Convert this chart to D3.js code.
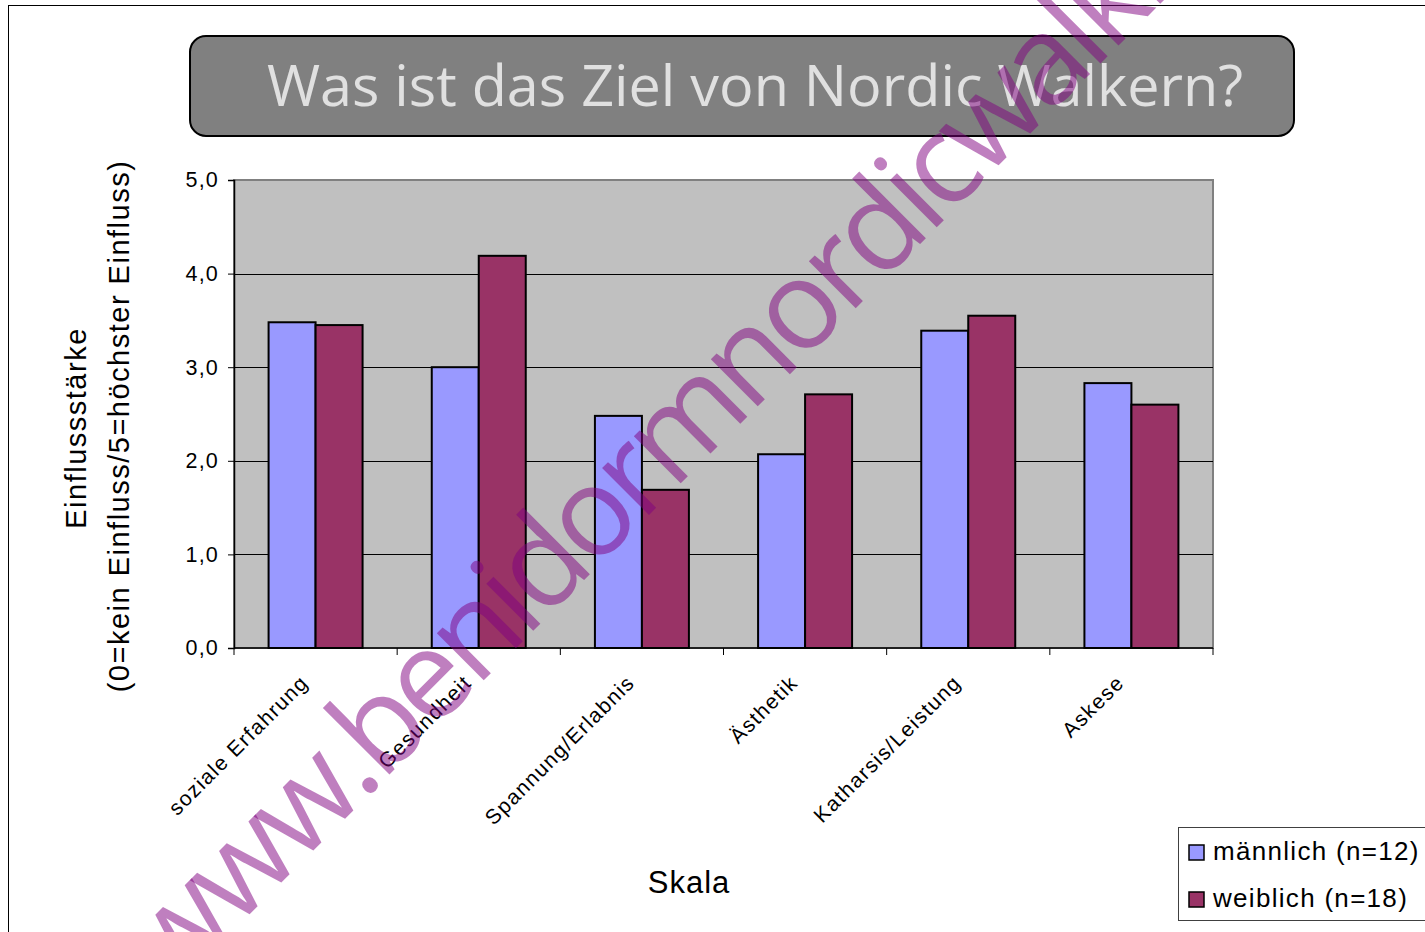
<!DOCTYPE html>
<html>
<head>
<meta charset="utf-8">
<script src="https://cdn.jsdelivr.net/npm/d3@7"></script>
<style>
  html, body { margin: 0; padding: 0; background: #fff; overflow: hidden; }
  svg { display: block; }
  text { font-family: "Liberation Sans", Arial, sans-serif; }
</style>
</head>
<body>
<div id="container"></div>
<script>
const width = 1425;
const height = 932;

const categories = ["soziale Erfahrung", "Gesundheit", "Spannung/Erlabnis", "Ästhetik", "Katharsis/Leistung", "Askese"];
const seriesNames = ["männlich (n=12)", "weiblich (n=18)"];
const maennlich = [3.48, 3.00, 2.48, 2.07, 3.39, 2.83];
const weiblich = [3.45, 4.19, 1.69, 2.71, 3.55, 2.60];
const yTicks = [0, 1, 2, 3, 4, 5];
const colors = ["#9999ff", "#993366"];

const title = "Was ist das Ziel von Nordic Walkern?";
const watermark = "www.benidormnordicwalking.com";

const plot = { left: 234, right: 1213, top: 180, bottom: 648 };

const svg = d3.select("#container").append("svg")
  .attr("width", width)
  .attr("height", height);

// outer frame
svg.append("rect")
  .attr("x", 8.5).attr("y", 5.5)
  .attr("width", width + 20).attr("height", height + 20)
  .attr("fill", "#fff").attr("stroke", "#000").attr("stroke-width", 1);

// title box
svg.append("rect")
  .attr("x", 190).attr("y", 36)
  .attr("width", 1104).attr("height", 100)
  .attr("rx", 16).attr("ry", 16)
  .attr("fill", "#808080").attr("stroke", "#000").attr("stroke-width", 2);

svg.append("text")
  .attr("x", 755).attr("y", 106)
  .attr("text-anchor", "middle")
  .style("font-family", "'Open Sans', sans-serif")
  .style("font-size", "57.5px")
  .attr("fill", "#e0e0e0")
  .text(title);

const x0 = d3.scaleBand()
  .domain(categories)
  .range([plot.left, plot.right])
  .padding(0);

const x1 = d3.scaleBand()
  .domain([0, 1])
  .range([0, x0.bandwidth()])
  .paddingInner(0)
  .paddingOuter(0.736);

const y = d3.scaleLinear()
  .domain([0, 5])
  .range([plot.bottom, plot.top]);

// plot background
svg.append("rect")
  .attr("x", plot.left).attr("y", plot.top)
  .attr("width", plot.right - plot.left).attr("height", plot.bottom - plot.top)
  .attr("fill", "#c0c0c0").attr("stroke", "#808080").attr("stroke-width", 2);

// gridlines
svg.append("g")
  .selectAll("line")
  .data(yTicks.filter(d => d > 0 && d < 5))
  .join("line")
  .attr("x1", plot.left).attr("x2", plot.right)
  .attr("y1", d => Math.round(y(d)) + 0.5).attr("y2", d => Math.round(y(d)) + 0.5)
  .attr("stroke", "#000").attr("stroke-width", 1);

// bars
const groups = svg.append("g")
  .selectAll("g")
  .data(categories.map((c, i) => ({ c, vals: [maennlich[i], weiblich[i]] })))
  .join("g")
  .attr("transform", d => `translate(${x0(d.c)},0)`);

groups.selectAll("rect")
  .data(d => d.vals.map((v, k) => ({ v, k })))
  .join("rect")
  .attr("x", d => x1(d.k))
  .attr("y", d => y(d.v))
  .attr("width", x1.bandwidth())
  .attr("height", d => y(0) - y(d.v))
  .attr("fill", d => colors[d.k])
  .attr("stroke", "#000").attr("stroke-width", 2);

// y axis
const yAxis = svg.append("g")
  .attr("transform", `translate(${plot.left},0)`)
  .call(d3.axisLeft(y).tickValues(yTicks).tickSize(6).tickPadding(9)
    .tickFormat(d => d3.format(".1f")(d).replace(".", ",")));
yAxis.select(".domain").attr("stroke", "#000").attr("stroke-width", 1.5);
yAxis.selectAll(".tick text")
  .style("font-family", "'Liberation Sans', Arial, sans-serif")
  .style("font-size", "21.5px")
  .style("letter-spacing", "1.2px")
  .attr("fill", "#000");

// x axis with ticks at category boundaries
const xAxis = svg.append("g")
  .attr("transform", `translate(0,${plot.bottom})`);
xAxis.append("line")
  .attr("x1", plot.left).attr("x2", plot.right)
  .attr("stroke", "#000").attr("stroke-width", 1.5);
xAxis.selectAll(".bt")
  .data(categories.map(c => x0(c)).concat([x0.range()[1]]))
  .join("line")
  .attr("class", "bt")
  .attr("x1", d => d).attr("x2", d => d)
  .attr("y1", 0).attr("y2", 7)
  .attr("stroke", "#000").attr("stroke-width", 1);

xAxis.selectAll(".lbl")
  .data(categories)
  .join("text")
  .attr("class", "lbl")
  .attr("text-anchor", "end")
  .attr("transform", d => `translate(${x0(d) + x0.bandwidth() / 2 - 6},${36}) rotate(-45)`)
  .style("font-size", "21px")
  .style("letter-spacing", "1.4px")
  .attr("fill", "#000")
  .text(d => d);

// axis titles
svg.append("text")
  .attr("transform", `translate(86,428) rotate(-90)`)
  .attr("text-anchor", "middle")
  .style("font-size", "29px")
  .style("letter-spacing", "1.5px")
  .text("Einflussstärke");
svg.append("text")
  .attr("transform", `translate(129,426) rotate(-90)`)
  .attr("text-anchor", "middle")
  .style("font-size", "29px")
  .style("letter-spacing", "1.5px")
  .text("(0=kein Einfluss/5=höchster Einfluss)");

svg.append("text")
  .attr("x", 689).attr("y", 893)
  .attr("text-anchor", "middle")
  .style("font-size", "31px")
  .style("letter-spacing", "1px")
  .text("Skala");

// legend
const legend = svg.append("g").attr("transform", "translate(1178,827)");
legend.append("rect")
  .attr("x", 0.5).attr("y", 0.5)
  .attr("width", 300).attr("height", 93)
  .attr("fill", "#fff").attr("stroke", "#404040").attr("stroke-width", 1);
const items = legend.selectAll(".item")
  .data(seriesNames)
  .join("g")
  .attr("class", "item")
  .attr("transform", (d, i) => `translate(0,${i * 47})`);
items.append("rect")
  .attr("x", 11).attr("y", 18)
  .attr("width", 15).attr("height", 15)
  .attr("fill", (d, i) => colors[i])
  .attr("stroke", "#000").attr("stroke-width", 1.5);
items.append("text")
  .attr("x", 35).attr("y", 33)
  .style("font-size", "26px")
  .style("letter-spacing", "1.3px")
  .text(d => d);

// watermark
svg.append("text")
  .attr("transform", "translate(172,992) rotate(-45)")
  .style("font-family", "'Open Sans', sans-serif")
  .style("font-size", "124px")
  .style("letter-spacing", "-6px")
  .attr("fill", "#800080")
  .attr("fill-opacity", 0.5)
  .text(watermark);
</script>
</body>
</html>
